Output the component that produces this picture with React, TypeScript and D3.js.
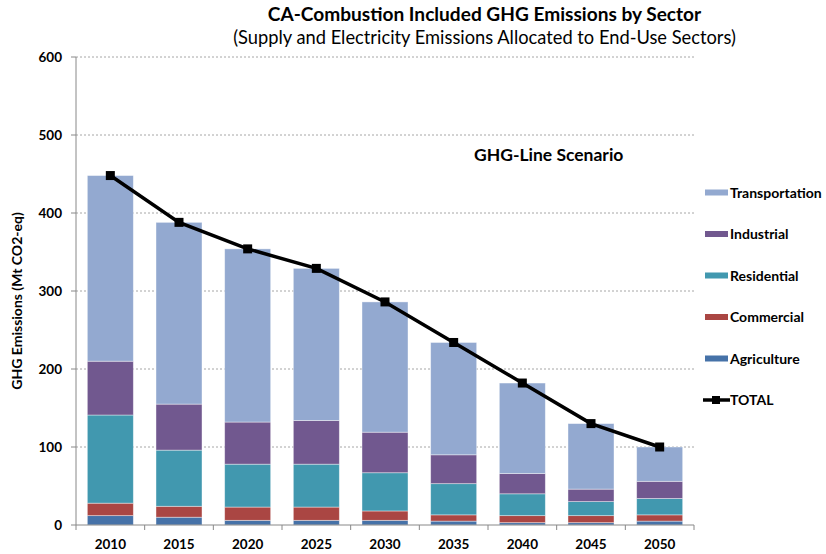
import React from "react";
import * as d3 from "d3";

const years = ["2010", "2015", "2020", "2025", "2030", "2035", "2040", "2045", "2050"];
const agriculture = [12, 10, 6, 6, 6, 5, 3, 3, 5];
const commercial = [16, 14, 17, 17, 12, 8, 9, 9, 8];
const residential = [113, 72, 55, 55, 49, 40, 28, 18, 21];
const industrial = [69, 59, 54, 56, 52, 37, 26, 16, 22];
const transportation = [238, 233, 222, 195, 167, 144, 116, 84, 44];
const total = [448, 388, 354, 329, 286, 234, 182, 130, 100];
const yTicks = [0, 100, 200, 300, 400, 500, 600];

const seriesNames = ["Agriculture", "Commercial", "Residential", "Industrial", "Transportation"];
const seriesData = [agriculture, commercial, residential, industrial, transportation];
const colors = ["#4672A8", "#AA4643", "#4198AF", "#71588F", "#93A9D0"];

const W = 826;
const H = 554;
const left = 76;
const right = 694;
const top = 57;
const bottom = 525;

export default function App() {
  const x = d3.scaleBand<string>().domain(years).range([left, right]).paddingInner(0.33).paddingOuter(0.165);
  const y = d3.scaleLinear().domain([0, 600]).range([bottom, top]);
  const step = x.step();

  const rows = years.map((yr, i) => {
    const o: any = { year: yr };
    seriesNames.forEach((n, k) => (o[n] = seriesData[k][i]));
    return o;
  });
  const stacked = d3.stack<any>().keys(seriesNames)(rows);

  const line = d3
    .line<number>()
    .x((_, i) => (x(years[i]) as number) + x.bandwidth() / 2)
    .y((d) => y(d));

  const font = "Lato, 'Liberation Sans', sans-serif";
  const legendItems = [...seriesNames].reverse();
  const legendY = (i: number) => 192.5 + i * 41.5;

  return (
    <svg
      width={W}
      height={H}
      style={{ position: "absolute", left: 0, top: 0, background: "#fff" }}
      fontFamily={font}
    >
      <rect x={0} y={0} width={W} height={H} fill="#fff" />
      {/* gridlines */}
      {yTicks.filter((t) => t > 0).map((t) => (
        <line key={t} x1={left} x2={right} y1={y(t)} y2={y(t)} stroke="#a6a6a6" strokeWidth={1} strokeDasharray="2,2" />
      ))}
      {/* bars */}
      {stacked.map((s, k) => (
        <g key={s.key} fill={colors[k]}>
          {s.map((d, i) => (
            <rect
              key={i}
              x={x(years[i])}
              width={x.bandwidth()}
              y={y(d[1])}
              height={y(d[0]) - y(d[1])}
              stroke="rgba(255,255,255,0.5)"
              strokeWidth={0.8}
            />
          ))}
        </g>
      ))}
      {/* axes */}
      <line x1={left} x2={left} y1={top} y2={bottom} stroke="#888" strokeWidth={1} />
      <line x1={left} x2={right} y1={bottom} y2={bottom} stroke="#888" strokeWidth={1} />
      {yTicks.map((t) => (
        <g key={t}>
          <line x1={left - 5} x2={left} y1={y(t)} y2={y(t)} stroke="#888" />
          <text x={62} y={y(t) + 5} textAnchor="end" fontSize={13.5} fontWeight="bold" fill="#000">
            {t}
          </text>
        </g>
      ))}
      {d3.range(years.length + 1).map((i) => (
        <line key={i} x1={left + i * step} x2={left + i * step} y1={bottom} y2={bottom + 5} stroke="#888" />
      ))}
      {years.map((yr) => (
        <text
          key={yr}
          x={(x(yr) as number) + x.bandwidth() / 2}
          y={549}
          textAnchor="middle"
          fontSize={13.5}
          fontWeight="bold"
          fill="#000"
        >
          {yr}
        </text>
      ))}
      {/* total line */}
      <path d={line(total) || ""} fill="none" stroke="#000" strokeWidth={3.5} />
      {total.map((v, i) => (
        <rect
          key={i}
          x={(x(years[i]) as number) + x.bandwidth() / 2 - 4.5}
          y={y(v) - 4.5}
          width={9}
          height={9}
          fill="#000"
        />
      ))}
      {/* titles */}
      <text x={484.5} y={21} textAnchor="middle" fontSize={19.1} fontWeight="bold" fill="#000">
        CA-Combustion Included GHG Emissions by Sector
      </text>
      <text x={484.5} y={44} textAnchor="middle" fontSize={18.3} fill="#000">
        (Supply and Electricity Emissions Allocated to End-Use Sectors)
      </text>
      <text
        transform={`translate(22,${(top + bottom) / 2 + 10}) rotate(-90)`}
        textAnchor="middle"
        fontSize={14}
        fontWeight="bold"
        fill="#000"
      >
        GHG Emissions (Mt CO2-eq)
      </text>
      <text x={474} y={161} fontSize={17.5} fontWeight="bold" fill="#000">
        GHG-Line Scenario
      </text>
      {/* legend */}
      {legendItems.map((n, i) => (
        <g key={n}>
          <rect x={705} y={legendY(i) - 3} width={23} height={6} fill={colors[seriesNames.indexOf(n)]} />
          <text x={730} y={legendY(i) + 5} fontSize={14} fontWeight="bold" fill="#000">
            {n}
          </text>
        </g>
      ))}
      <g>
        <line x1={703} x2={730} y1={legendY(5)} y2={legendY(5)} stroke="#000" strokeWidth={3.5} />
        <rect x={712} y={legendY(5) - 4} width={8} height={8} fill="#000" />
        <text x={730} y={legendY(5) + 5} fontSize={14} fontWeight="bold" fill="#000">
          TOTAL
        </text>
      </g>
    </svg>
  );
}
